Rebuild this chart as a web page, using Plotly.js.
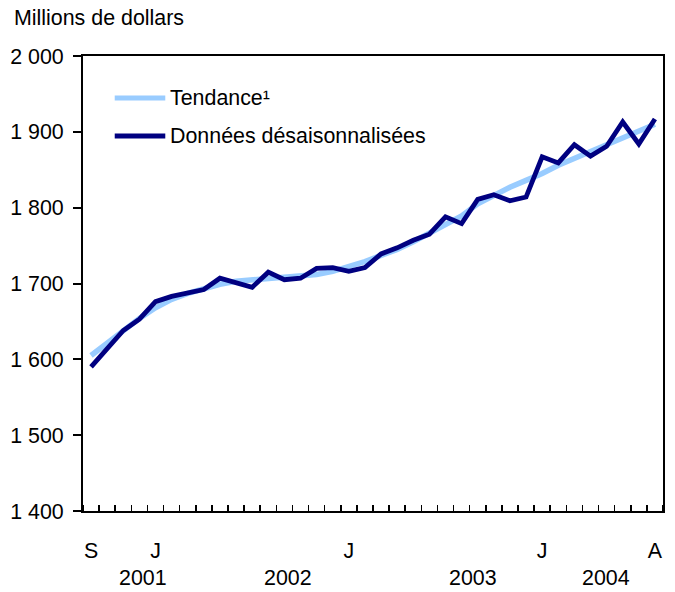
<!DOCTYPE html>
<html>
<head>
<meta charset="utf-8">
<script src="https://cdn.plot.ly/plotly-3.0.1.min.js"></script>
<style>html,body{margin:0;padding:0;background:#fff;}#chart{width:675px;height:592px;}</style>
</head>
<body>
<div id="chart"></div>
<script>
// Months: September 2001 to August 2004 (36 months)
var months = ["S","O","N","D","J","F","M","A","M","J","J","A","S","O","N","D","J","F","M","A","M","J","J","A","S","O","N","D","J","F","M","A","M","J","J","A"];
var monthLabelIdx = [0, 4, 16, 28, 35];
var yearLabels = ["2001", "2002", "2003", "2004"];
var yearLabelPos = [3.2, 12.25, 23.7, 31.95];

var seasonallyAdjusted = [1590,1614,1638,1653,1676,1683,1687,1692,1707,1701,1695,1715,1705,1707,1720,1721,1716,1721,1739,1747,1757,1765,1788,1779,1811,1817,1809,1814,1867,1859,1883,1868,1881,1913,1884,1917];
var trend = [1605,1622,1638,1654,1668,1679,1687,1693,1699,1703,1705,1707,1708,1710,1712,1716,1722,1729,1737,1745,1755,1766,1777,1789,1805,1817,1827,1836,1845,1856,1865,1874,1883,1891,1900,1910];

var yTickVals = [1400,1500,1600,1700,1800,1900,2000];
var yTickText = ["1 400","1 500","1 600","1 700","1 800","1 900","2 000"];

var seriesNames = ["Tendance\u00B9", "Donn\u00E9es d\u00E9saisonnalis\u00E9es"];
var lightBlue = "#99CCFF", navy = "#000080";

var xIdx = months.map(function(m, i){ return i; });

var font = "Liberation Sans, Arial, sans-serif";
var fs = 21.4;

var traces = [
  {x: xIdx, y: trend, type: "scatter", mode: "lines", name: seriesNames[0],
   line: {color: lightBlue, width: 5.5}, showlegend: false, hoverinfo: "skip"},
  {x: xIdx, y: seasonallyAdjusted, type: "scatter", mode: "lines", name: seriesNames[1],
   line: {color: navy, width: 4.8}, showlegend: false, hoverinfo: "skip"}
];

var W = 675, H = 592, L = 83.3, R = 12.3, T = 56, B = 81.3;
var pw = W - L - R, ph = H - T - B;
function px2x(p){ return (p - L) / pw; }
function py2y(p){ return (H - B - p) / ph; }

var annotations = yearLabels.map(function(t, i){
  return {text: t, x: yearLabelPos[i], xref: "x", y: py2y(578), yref: "paper",
          xanchor: "center", yanchor: "middle", showarrow: false,
          font: {family: font, size: fs, color: "#000"}};
});
var legendY = [98, 136];
var colors = [lightBlue, navy];
var shapes = [];
for (var k = 0; k < 2; k++) {
  shapes.push({type: "line", xref: "paper", yref: "paper",
    x0: px2x(115), x1: px2x(165.5), y0: py2y(legendY[k]), y1: py2y(legendY[k]),
    line: {color: colors[k], width: 5}});
  annotations.push({text: seriesNames[k], xref: "paper", yref: "paper",
    x: px2x(168), y: py2y(legendY[k]), xanchor: "left", yanchor: "middle",
    showarrow: false, font: {family: font, size: fs, color: "#000"}});
}

var layout = {
  width: W, height: H,
  margin: {l: L, r: R, t: T, b: B, pad: 0},
  paper_bgcolor: "#fff", plot_bgcolor: "#fff",
  font: {family: font, size: fs, color: "#000"},
  title: {text: "Millions de dollars", x: 14 / W, xanchor: "left", xref: "container",
          y: 1 - 18 / H, yanchor: "middle", yref: "container",
          font: {family: font, size: fs, color: "#000"}},
  xaxis: {range: [-0.5, 35.5], showgrid: false, zeroline: false,
          showline: true, mirror: true, linecolor: "#000", linewidth: 2,
          tickmode: "array", tickvals: monthLabelIdx,
          ticktext: monthLabelIdx.map(function(i){ return months[i]; }),
          ticks: "", ticklabelstandoff: 19,
          tickfont: {family: font, size: fs, color: "#000"},
          minor: {tick0: 0.5, dtick: 1, ticks: "inside", ticklen: 6, tickwidth: 1.5, tickcolor: "#000", showgrid: false},
          fixedrange: true},
  yaxis: {range: [1400, 2000], showgrid: false, zeroline: false,
          showline: true, mirror: true, linecolor: "#000", linewidth: 2,
          tickmode: "array", tickvals: yTickVals, ticktext: yTickText,
          ticks: "outside", ticklen: 8, tickwidth: 2, tickcolor: "#000",
          ticklabelstandoff: 5,
          tickfont: {family: font, size: fs, color: "#000"},
          fixedrange: true},
  shapes: shapes,
  annotations: annotations,
  showlegend: false
};

Plotly.newPlot("chart", traces, layout, {displayModeBar: false, staticPlot: true});
</script>
</body>
</html>
